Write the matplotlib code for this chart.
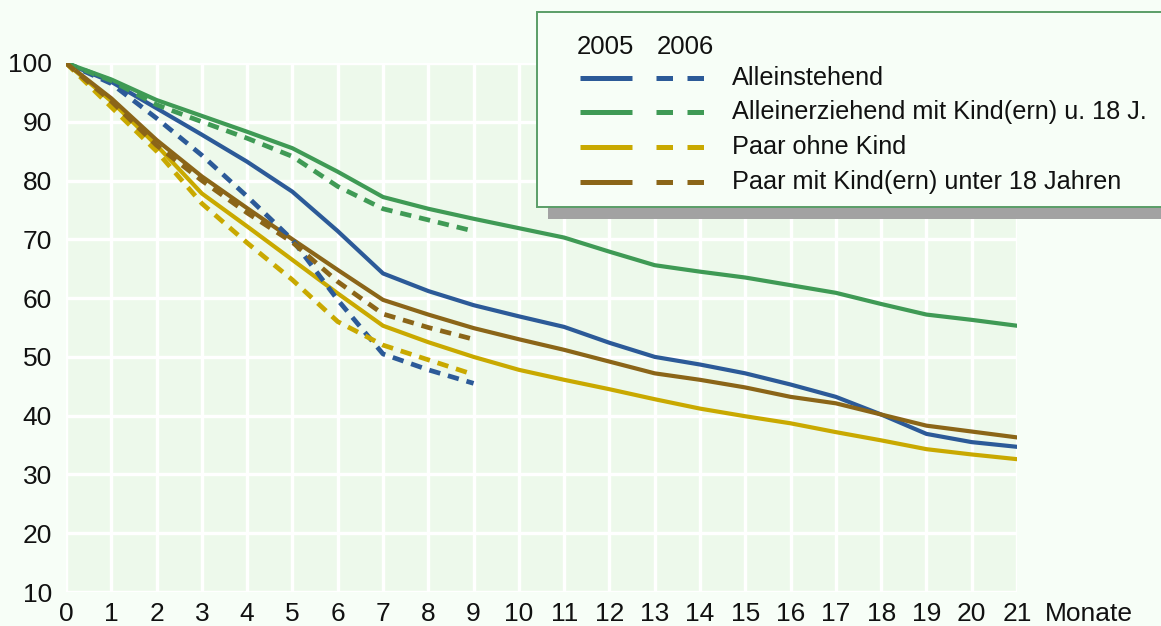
import matplotlib.pyplot as plt
from matplotlib.lines import Line2D
from matplotlib.patches import Rectangle

plt.rcParams['font.family'] = ['Liberation Sans', 'DejaVu Sans']

# Monate
monate_2005 = list(range(0, 22))
monate_2006 = list(range(0, 10))

# Anteil noch im Leistungsbezug (%), 2005 (durchgezogen)
allein_2005 = [100, 96.8, 92.3, 87.8, 83.2, 78.1, 71.4, 64.2, 61.2, 58.8, 56.9, 55.1,
               52.4, 50.0, 48.7, 47.2, 45.3, 43.2, 40.2, 36.9, 35.5, 34.7]
erz_2005 = [100, 97.2, 93.7, 91.0, 88.3, 85.5, 81.5, 77.2, 75.2, 73.5, 71.9, 70.3,
            67.9, 65.6, 64.5, 63.5, 62.2, 60.9, 59.0, 57.2, 56.3, 55.3]
paar_2005 = [100, 93.5, 86.0, 77.8, 72.2, 66.5, 60.8, 55.3, 52.5, 50.0, 47.8, 46.1,
             44.5, 42.8, 41.2, 39.9, 38.7, 37.2, 35.8, 34.3, 33.4, 32.6]
paarkind_2005 = [100, 94.0, 86.9, 80.7, 75.3, 70.0, 64.8, 59.7, 57.2, 54.9, 53.0, 51.2,
                 49.2, 47.2, 46.1, 44.8, 43.2, 42.1, 40.2, 38.3, 37.3, 36.3]

# 2006 (gestrichelt)
allein_2006 = [100, 96.5, 90.6, 84.3, 77.3, 69.9, 59.7, 50.5, 47.8, 45.5]
erz_2006 = [100, 97.0, 92.9, 90.0, 87.2, 84.1, 79.0, 75.2, 73.3, 71.4]
paar_2006 = [100, 92.5, 85.0, 76.1, 69.4, 63.1, 56.0, 52.0, 49.5, 47.0]
paarkind_2006 = [100, 93.5, 86.0, 80.0, 74.5, 69.5, 62.8, 57.3, 55.0, 53.0]

labels = ['Alleinstehend', 'Alleinerziehend mit Kind(ern) u. 18 J.',
          'Paar ohne Kind', 'Paar mit Kind(ern) unter 18 Jahren']
farben = ['#2c5a98', '#3f9a55', '#c9a900', '#8b6518']

serien_2005 = [allein_2005, erz_2005, paar_2005, paarkind_2005]
serien_2006 = [allein_2006, erz_2006, paar_2006, paarkind_2006]

fig = plt.figure(figsize=(11.61, 6.26), dpi=100, facecolor='#f7fef7')
ax = fig.add_axes([66 / 1161, 34 / 626, 951 / 1161, 529 / 626])
ax.set_facecolor('#edf9eb')

# Linien 2005 / 2006
for werte, farbe in zip(serien_2005, farben):
    ax.plot(monate_2005, werte, color=farbe, lw=3.0, solid_capstyle='round',
            solid_joinstyle='round', zorder=3)
for werte, farbe in zip(serien_2006, farben):
    ax.plot(monate_2006, werte, color=farbe, lw=3.4, dashes=(2.4, 1.7), zorder=3)

ax.set_xlim(0, 21)
ax.set_ylim(10, 100)
ax.set_xticks(range(0, 22))
ax.set_yticks(range(10, 101, 10))
ax.grid(True, color='white', lw=2.4)
ax.set_axisbelow(True)
for s in ax.spines.values():
    s.set_visible(False)
ax.tick_params(length=0, labelsize=19, colors='#111111')
ax.tick_params(axis='x', pad=7)
ax.tick_params(axis='y', pad=10)
fig.text(1045 / 1161, 1 - 614 / 626, 'Monate', fontsize=19, va='center', ha='left', color='#111111')

# Legende (manuell, mit Schatten)
def fx(px):
    return px / 1161

def fy(py):
    return 1 - py / 626

fig.patches.append(Rectangle((fx(548), fy(219)), fx(640), 200 / 626, transform=fig.transFigure,
                             facecolor='#a2a2a2', edgecolor='none', zorder=5))
fig.patches.append(Rectangle((fx(537), fy(207)), fx(640), 195 / 626, transform=fig.transFigure,
                             facecolor='#f7fef7', edgecolor='#5a9e68', lw=1.4, zorder=6))
fig.text(fx(577), fy(47), '2005', fontsize=18.5, va='center', ha='left', zorder=7, color='#111111')
fig.text(fx(657), fy(47), '2006', fontsize=18.5, va='center', ha='left', zorder=7, color='#111111')
zeilen = [78, 112, 147, 182]
for lab, farbe, yy in zip(labels, farben, zeilen):
    fig.lines.append(Line2D([fx(580), fx(632)], [fy(yy), fy(yy)], transform=fig.transFigure,
                            color=farbe, lw=3.6, solid_capstyle='butt', zorder=7))
    fig.lines.append(Line2D([fx(656), fx(712)], [fy(yy), fy(yy)], transform=fig.transFigure,
                            color=farbe, lw=3.6, dashes=(3.3, 2.9), dash_capstyle='butt', zorder=7))
    fig.text(fx(732), fy(yy), lab, fontsize=18.2, va='center', ha='left', zorder=7, color='#111111')

plt.savefig('out.png', dpi=100, facecolor=fig.get_facecolor())
